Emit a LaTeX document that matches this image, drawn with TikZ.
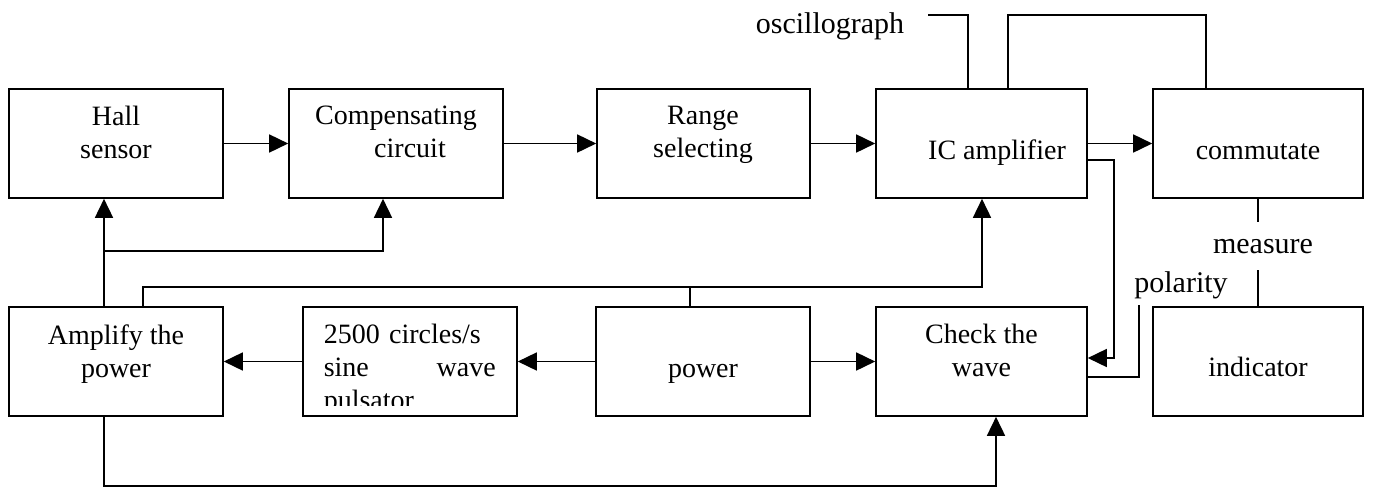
\documentclass[tikz,border=0pt]{standalone}
\usepackage{fontspec}
\setmainfont{Liberation Serif}
\usetikzlibrary{arrows.meta}
\begin{document}
\begin{tikzpicture}[x=1pt,y=-1pt, line width=1.6pt,
 box/.style={draw, rectangle, minimum height=109pt, inner sep=0pt},
 btxt/.style={font=\fontsize{28}{33}\selectfont, inner sep=0pt, align=center},
 lbl/.style={font=\fontsize{30}{34}\selectfont, inner sep=0pt, anchor=base},
 arr/.style={-{Triangle[length=19pt,width=18pt]}}]
\useasboundingbox (0,0) rectangle (1379,488);
% boxes
\node[box, minimum width=214pt] (hall)  at (116,143.5) {};
\node[box, minimum width=214pt] (comp)  at (396,143.5) {};
\node[box, minimum width=213pt] (range) at (703.5,143.5) {};
\node[box, minimum width=211pt] (ic)    at (981.5,143.5) {};
\node[box, minimum width=210pt] (comm)  at (1258,143.5) {};
\node[box, minimum width=214pt] (amp)   at (116,361.5) {};
\node[box, minimum width=214pt] (sine)  at (410,361.5) {};
\node[box, minimum width=214pt] (power) at (703,361.5) {};
\node[box, minimum width=211pt] (check) at (981.5,361.5) {};
\node[box, minimum width=210pt] (ind)   at (1258,361.5) {};
% box texts
\node[btxt, anchor=north] (thall)  at (116,105.5) {Hall\\sensor};
\node[btxt, anchor=north] (tcomp)  at (396,105.5) {Compensating\\\hspace*{28pt}circuit};
\node[btxt, anchor=north] (trange) at (703,105.5) {Range\\selecting};
\node[btxt, anchor=base]  (tic)    at (997,159) {IC amplifier};
\node[btxt, anchor=base]  (tcomm)  at (1258,159) {commutate};
\node[btxt, anchor=north] (tamp)   at (116,323.5) {Amplify the\\power};
\node[btxt, anchor=base]  (tpower) at (703,377) {power};
\node[btxt, anchor=north] (tcheck) at (981.5,323.5) {Check the\\wave};
\node[btxt, anchor=base]  (tind)   at (1258,376) {indicator};
\begin{scope}
\clip (305,309) rectangle (515,405);
\node[btxt, align=left, text width=172pt, anchor=north west] (tsine) at (323,323.5) {2500 circles/s\\sine\hfill wave\\pulsator};
\end{scope}
% labels
\node[lbl] (osc)  at (830,33) {oscillograph};
\node[lbl] (meas) at (1263,253) {measure};
\node[lbl] (pol)  at (1181,292) {polarity};
% coordinates
\coordinate (j1) at (104,251);
\coordinate (j2) at (383,251);
\coordinate (b1) at (143,287);
\coordinate (b2) at (982,287);
\coordinate (b3) at (690,287);
\coordinate (d1) at (104,486);
\coordinate (d2) at (996,486);
\coordinate (e1) at (1114,160);
\coordinate (e2) at (1114,358);
\coordinate (p1) at (1139,377);
\coordinate (p2) at (1139,305);
\coordinate (o1) at (928,15);
\coordinate (o2) at (968,15);
\coordinate (l1) at (1008,15);
\coordinate (l2) at (1206,15);
\coordinate (m1) at (1258,222);
\coordinate (m2) at (1258,270);
% connectors
\draw[arr] (hall.east) -- (comp.west);
\draw[arr] (comp.east) -- (range.west);
\draw[arr] (range.east) -- (ic.west);
\draw[arr] (ic.east) -- (comm.west);
\draw (amp.north -| j1) -- (j1);
\draw[arr] (j1) -- (hall.south -| j1);
\draw[arr] (j1) -- (j2) -- (comp.south -| j2);
\draw[arr] (amp.north -| b1) -- (b1) -- (b2) -- (ic.south -| b2);
\draw (b3) -- (power.north -| b3);
\draw[arr] (power.west) -- (sine.east);
\draw[arr] (sine.west) -- (amp.east);
\draw[arr] (power.east) -- (check.west);
\draw[arr] (amp.south -| d1) -- (d1) -- (d2) -- (check.south -| d2);
\draw[arr] (ic.east |- e1) -- (e1) -- (e2) -- (check.east |- e2);
\draw (check.east |- p1) -- (p1) -- (p2);
\draw (o1) -- (o2) -- (ic.north -| o2);
\draw (ic.north -| l1) -- (l1) -- (l2) -- (comm.north -| l2);
\draw (comm.south) -- (m1);
\draw (m2) -- (ind.north);
\end{tikzpicture}
\end{document}
